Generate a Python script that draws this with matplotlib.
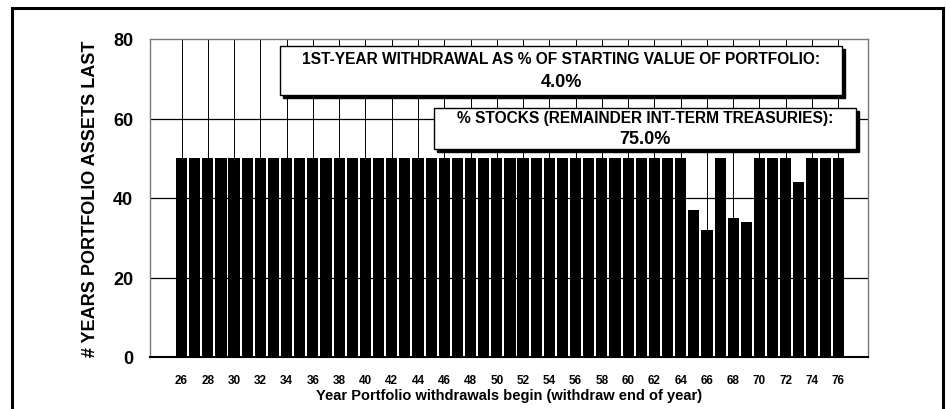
import matplotlib
matplotlib.use("Agg")
import matplotlib.pyplot as plt
from matplotlib.patches import Rectangle
from matplotlib.lines import Line2D

plt.rcParams['font.family'] = ['Liberation Sans', 'DejaVu Sans']
plt.rcParams['font.weight'] = 'bold'

# datos
years = list(range(26, 77))
years_last = [50] * 39 + [37, 32, 50, 35, 34, 50, 50, 50, 44, 50, 50, 50]
tick_years = list(range(26, 77, 2))
y_ticks = [0, 20, 40, 60, 80]

box1_lines = ["1ST-YEAR WITHDRAWAL AS % OF STARTING VALUE OF PORTFOLIO:", "4.0%"]
box2_lines = ["% STOCKS (REMAINDER INT-TERM TREASURIES):", "75.0%"]

W, H = 946, 410
fig = plt.figure(figsize=(W / 100, H / 100), dpi=100)
ax = fig.add_axes([150 / W, 1 - 358 / H, 718 / W, 318 / H])

# rejilla detras de las barras
ax.set_axisbelow(True)
ax.bar(years, years_last, width=0.85, color='black', zorder=2)
for y in y_ticks[1:-1]:
    ax.axhline(y, color='black', linewidth=0.9, zorder=1)
for x in tick_years:
    ax.axvline(x, color='black', linewidth=0.7, zorder=1)

ax.set_xlim(23.6, 78.26)
ax.set_ylim(0, 80)
ax.set_yticks(y_ticks)
ax.set_xticks(tick_years)
ax.set_xticklabels([str(t) for t in tick_years], fontsize=8.5, fontweight='bold')
ax.set_yticklabels([str(t) for t in y_ticks], fontsize=13, fontweight='bold')
ax.tick_params(axis='both', length=0)
ax.tick_params(axis='y', pad=12)
ax.tick_params(axis='x', pad=12)

for s in ['left', 'top', 'right']:
    ax.spines[s].set_color('#7a7a7a')
    ax.spines[s].set_linewidth(1.0)
ax.spines['bottom'].set_color('black')
ax.spines['bottom'].set_linewidth(1.5)

ax.set_xlabel('Year Portfolio withdrawals begin (withdraw end of year)',
              fontsize=10.5, fontweight='bold', labelpad=2)
ax.set_ylabel('# YEARS PORTFOLIO ASSETS LAST', fontsize=13, fontweight='bold', labelpad=10)


# cuadros de texto con sombra
def caja(x0, y0, x1, y1, lines, y_lines):
    sh = 3
    fig.patches.append(Rectangle(((x0 + sh) / W, 1 - (y1 + sh) / H), (x1 - x0) / W, (y1 - y0) / H,
                                 transform=fig.transFigure, facecolor='black', edgecolor='black',
                                 zorder=5))
    fig.patches.append(Rectangle((x0 / W, 1 - y1 / H), (x1 - x0) / W, (y1 - y0) / H,
                                 transform=fig.transFigure, facecolor='white', edgecolor='black',
                                 linewidth=1.0, zorder=6))
    cx = (x0 + x1) / 2 / W
    fig.text(cx, 1 - y_lines[0] / H, lines[0], ha='center', va='center',
             fontsize=11.2, fontweight='bold', zorder=7)
    fig.text(cx, 1 - y_lines[1] / H, lines[1], ha='center', va='center',
             fontsize=13, fontweight='bold', zorder=7)


caja(280, 47, 842, 96, box1_lines, (59, 83))
caja(434, 109, 856, 150, box2_lines, (118, 140))

# marco exterior
fig.lines.append(Line2D([12 / W, 943 / W], [1 - 9 / H, 1 - 9 / H], transform=fig.transFigure,
                        color='black', linewidth=2.2))
fig.lines.append(Line2D([12 / W, 12 / W], [1 - 9 / H, 0], transform=fig.transFigure,
                        color='black', linewidth=2.2))
fig.lines.append(Line2D([943 / W, 943 / W], [1 - 9 / H, 0], transform=fig.transFigure,
                        color='black', linewidth=2.2))

fig.savefig('out.png', dpi=100)
